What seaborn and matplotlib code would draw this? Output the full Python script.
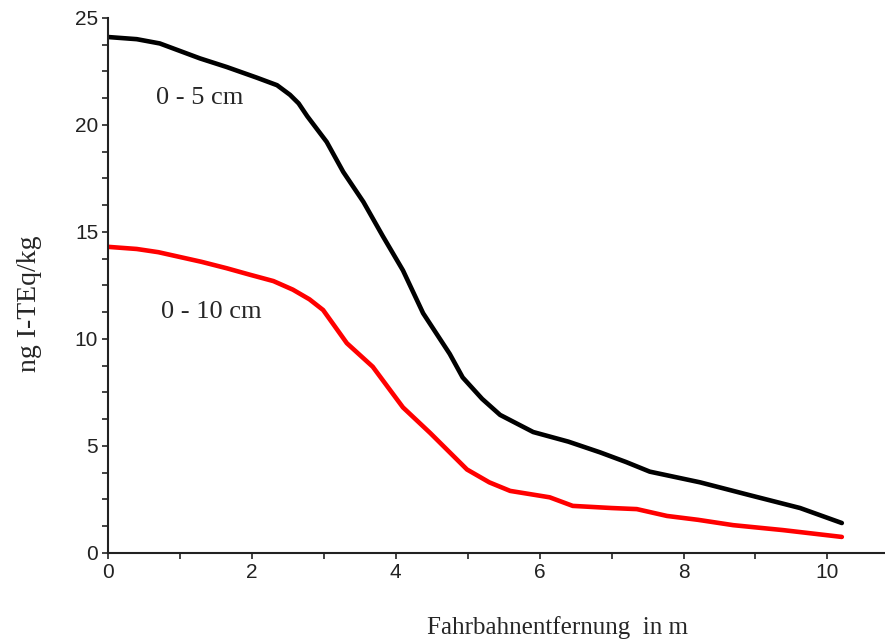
import pandas as pd
import matplotlib
matplotlib.use("Agg")
import matplotlib.pyplot as plt
import seaborn as sns
from matplotlib.ticker import MultipleLocator

# Kurvenwerte
x_0_5 = [0.0, 0.4, 0.72, 1.28, 1.65, 2.07, 2.35, 2.53, 2.65, 2.77, 3.04, 3.27, 3.55, 3.82,
         4.10, 4.38, 4.75, 4.93, 5.20, 5.45, 5.91, 6.40, 6.84, 7.20, 7.53, 8.23,
         8.92, 9.62, 10.2]
y_0_5 = [24.1, 24.0, 23.8, 23.1, 22.7, 22.2, 21.85, 21.4, 21.0, 20.4, 19.2, 17.8, 16.4, 14.8,
         13.2, 11.2, 9.3, 8.2, 7.2, 6.45, 5.65, 5.2, 4.7, 4.25, 3.8, 3.3,
         2.7, 2.1, 1.4]

x_0_10 = [0.0, 0.4, 0.7, 1.3, 1.65, 1.97, 2.30, 2.57, 2.80, 2.99, 3.15, 3.32, 3.68, 4.10,
          4.48, 4.99, 5.30, 5.59, 6.14, 6.46, 7.00, 7.35, 7.77, 8.20, 8.69, 9.38, 10.2]
y_0_10 = [14.3, 14.2, 14.05, 13.6, 13.3, 13.0, 12.7, 12.3, 11.85, 11.35, 10.6, 9.8, 8.7, 6.8,
          5.6, 3.9, 3.3, 2.9, 2.6, 2.2, 2.1, 2.05, 1.73, 1.55, 1.3, 1.07, 0.75]

tiefe_labels = ["0 - 5 cm", "0 - 10 cm"]

df = pd.concat([
    pd.DataFrame({"x": x_0_5, "y": y_0_5, "Tiefe": tiefe_labels[0]}),
    pd.DataFrame({"x": x_0_10, "y": y_0_10, "Tiefe": tiefe_labels[1]}),
])

sns.set_style("ticks")
plt.rcParams["font.family"] = ["Liberation Sans", "DejaVu Sans"]

fig = plt.figure(figsize=(8.85, 6.41), dpi=100)
ax = fig.add_axes([0.122, 0.1373, 0.878, 0.835])

sns.lineplot(data=df, x="x", y="y", hue="Tiefe", sort=False,
             palette={tiefe_labels[0]: "black", tiefe_labels[1]: "#ff0000"},
             linewidth=3.3, legend=False, ax=ax)

ax.set_xlim(0, 10.8)
ax.set_ylim(0, 25)
ax.xaxis.set_major_locator(MultipleLocator(2))
ax.xaxis.set_minor_locator(MultipleLocator(1))
ax.yaxis.set_major_locator(MultipleLocator(5))
ax.yaxis.set_minor_locator(MultipleLocator(1.25))
ax.tick_params(which="both", direction="out", length=4, width=1.2, colors="#222222",
               labelsize=15, labelcolor="#222222", pad=3)
sns.despine(ax=ax)
for s in ["left", "bottom"]:
    ax.spines[s].set_linewidth(1.5)
    ax.spines[s].set_color("#222222")

serif = ["Liberation Serif", "DejaVu Serif"]
ax.text(1.27, 21.25, tiefe_labels[0], family=serif, fontsize=19, ha="center", va="center")
ax.text(1.43, 11.25, tiefe_labels[1], family=serif, fontsize=19, ha="center", va="center")

ax.set_xlabel("Fahrbahnentfernung  in m", family=serif, fontsize=18)
ax.xaxis.set_label_coords(0.578, -0.118)
ax.set_ylabel("ng I-TEq/kg", family=serif, fontsize=20)
ax.yaxis.set_label_coords(-0.085, 0.465)

fig.savefig("out.png", dpi=100)
